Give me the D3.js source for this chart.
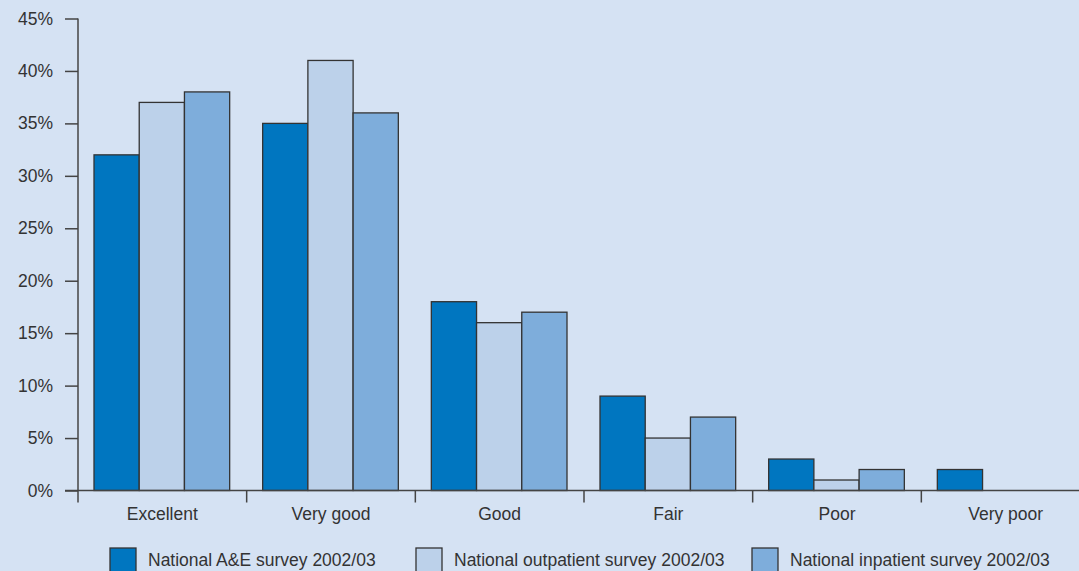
<!DOCTYPE html>
<html><head><meta charset="utf-8">
<script src="https://cdn.jsdelivr.net/npm/d3@7"></script>
<style>
html,body{margin:0;padding:0;background:#d5e2f3;}
svg{display:block;font-family:"Liberation Sans",Arial,sans-serif;}
</style></head>
<body>
<svg id="chart" width="1079" height="571"></svg>
<script>
const categories = ["Excellent","Very good","Good","Fair","Poor","Very poor"];
const seriesNames = ["National A&E survey 2002/03","National outpatient survey 2002/03","National inpatient survey 2002/03"];
const aeValues = [32,35,18,9,3,2];
const outpatientValues = [37,41,16,5,1,0];
const inpatientValues = [38,36,17,7,2,0];
const yTicks = [0,5,10,15,20,25,30,35,40,45];
const colors = ["#0076c0","#bcd1ea","#7eaddb"];

const series = [aeValues, outpatientValues, inpatientValues];
const svg = d3.select("#chart");
const W = 1079, H = 571;
const FS = 17.5;
svg.append("rect").attr("width",W).attr("height",H).attr("fill","#d5e2f3");

const x0 = 78, x1 = 1090, yTop = 18.5, yBot = 490.5;
const x = d3.scaleBand().domain(categories).range([x0,x1]).paddingInner(0).paddingOuter(0);
const xs = d3.scaleBand().domain(d3.range(3)).range([16, x.bandwidth()-17]).padding(0);
const y = d3.scaleLinear().domain([0,45]).range([yBot,yTop]);

// bars
series.forEach((vals,si)=>{
  svg.append("g").selectAll("rect").data(categories).join("rect")
    .attr("x",(c)=>x(c)+xs(si))
    .attr("y",(c,i)=>y(vals[i]))
    .attr("width",xs.bandwidth())
    .attr("height",(c,i)=>yBot-y(vals[i]))
    .attr("fill",colors[si])
    .attr("stroke","#333")
    .attr("stroke-width",1.3);
});

// y axis
const yAxis = d3.axisLeft(y).tickValues(yTicks).tickFormat(d=>d+"%").tickSize(13).tickPadding(12);
const gy = svg.append("g").attr("transform",`translate(${x0},0)`).call(yAxis);
gy.select(".domain").attr("stroke","#444").attr("stroke-width",1.5).attr("d",`M0,${yTop}V${yBot}`);
gy.selectAll(".tick line").attr("stroke","#444").attr("stroke-width",1.5);
gy.selectAll(".tick text").attr("fill","#333").attr("font-size",FS).attr("font-family","Liberation Sans, Arial, sans-serif");

// x axis baseline
svg.append("line").attr("x1",65).attr("x2",W).attr("y1",yBot).attr("y2",yBot)
  .attr("stroke","#444").attr("stroke-width",1.5);
// category separators ticks
svg.append("g").selectAll("line").data(categories).join("line")
  .attr("x1",c=>x(c)).attr("x2",c=>x(c)).attr("y1",yBot).attr("y2",yBot+12)
  .attr("stroke","#444").attr("stroke-width",1.5);
// category labels
svg.append("g").selectAll("text").data(categories).join("text")
  .attr("x",c=>x(c)+x.bandwidth()/2).attr("y",520)
  .attr("text-anchor","middle").attr("font-size",FS).attr("fill","#333")
  .text(c=>c);

// legend
const legX = [110,416,752];
const lg = svg.append("g").selectAll("g").data(seriesNames).join("g")
  .attr("transform",(d,i)=>`translate(${legX[i]},548)`);
lg.append("rect").attr("width",26).attr("height",26).attr("fill",(d,i)=>colors[i])
  .attr("stroke","#333").attr("stroke-width",1.3);
lg.append("text").attr("x",38).attr("y",18).attr("font-size",FS).attr("fill","#333").text(d=>d);
</script>
</body></html>
